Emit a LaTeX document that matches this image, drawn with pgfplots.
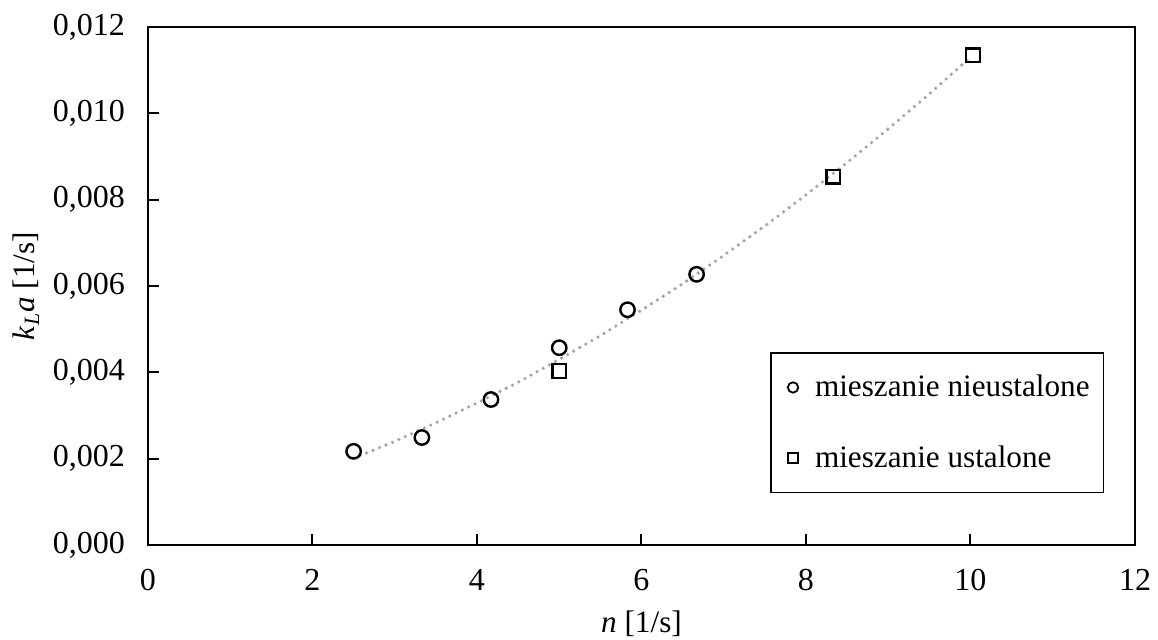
\documentclass[border=0pt]{standalone}
\usepackage{fontspec}
\setmainfont{Liberation Serif}
\usepackage{pgfplots}
\pgfplotsset{compat=1.18}
\definecolor{trendgray}{HTML}{A5A5A5}

\begin{document}
\begin{tikzpicture}[font=\fontsize{16}{19}\selectfont]
\path[use as bounding box] (-74pt,-47.5pt) rectangle (505pt,272.5pt);
\begin{axis}[
    at={(0,0)}, anchor=south west,
    scale only axis,
    width=493.5pt, height=259pt,
    xmin=0, xmax=12, ymin=0, ymax=0.012,
    xtick={0,2,...,12},
    ytick={0,0.002,...,0.0121},
    tick align=inside,
    xtick pos=bottom, ytick pos=left,
    major tick length=5.5pt,
    axis line style={line width=1pt},
    tick style={line width=1pt, black},
    scaled ticks=false,
    xticklabel={\pgfmathprintnumber[assume math mode=true]{\tick}},
    yticklabel={\pgfmathprintnumber[assume math mode=true, fixed, fixed zerofill, precision=3, use comma]{\tick}},
    yticklabel style={xshift=-8pt},
    xticklabel style={yshift=-8.5pt},
    xlabel={\textit{n} [1/s]},
    ylabel={\textit{k}\textsubscript{\textit{L}}\textit{a} [1/s]},
    label style={font=\fontsize{15.6}{18}\selectfont},
    xlabel style={yshift=-3pt},
    ylabel style={yshift=0pt},
    legend cell align=left,
    legend style={at={(0.969,0.1)}, anchor=south east, draw=black, line width=0.75pt,
        inner xsep=5pt, inner ysep=9pt, row sep=19pt, font=\fontsize{15.6}{18}\selectfont},
    legend image post style={mark size=2.6pt, line width=0.9pt},
    legend image code/.code={\draw[#1] plot coordinates {(0.2cm,0cm)}; \path (0cm,0cm) (0.5cm,0cm);},
]
\addplot[trendgray, line width=1.8pt, line cap=round, dash pattern=on 0pt off 3.5pt, forget plot]
  coordinates {(2.5,0.00201) (3.0,0.00240) (3.5,0.00283) (4.0,0.00329) (4.5,0.00377) (5.0,0.00430)
  (5.5,0.00485) (6.0,0.00544) (6.5,0.00605) (7.0,0.00671) (7.5,0.00739) (8.0,0.00811)
  (8.5,0.00886) (9.0,0.00964) (9.5,0.01045) (10.0,0.0113)};
\addplot[only marks, mark=o, mark size=3.6pt, line width=1.2pt, black]
  coordinates {(2.5,0.00217) (3.33,0.00249) (4.17,0.00337) (5.0,0.00457) (5.83,0.00545) (6.67,0.00627)};
\addlegendentry{mieszanie nieustalone}
\addplot[only marks, mark=square, mark size=3.4pt, line width=1.2pt, black]
  coordinates {(5.0,0.00403) (8.33,0.00853) (10.03,0.01134)};
\addlegendentry{mieszanie ustalone}
\end{axis}
\end{tikzpicture}
\end{document}
